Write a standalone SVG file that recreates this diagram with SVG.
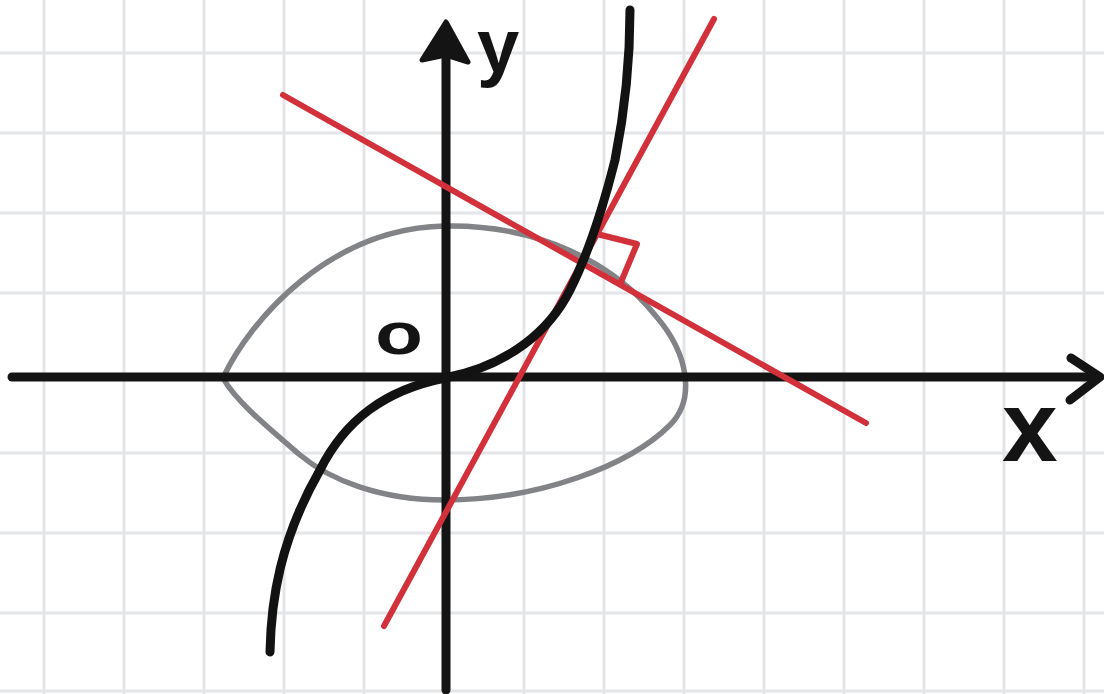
<svg xmlns="http://www.w3.org/2000/svg" width="1104" height="694" viewBox="0 0 1104 694">
<style>
.grid line{stroke:#e3e5e8;stroke-width:3}
.ax{stroke:#141414;stroke-width:9;fill:none;stroke-linecap:round;stroke-linejoin:round}
.red{stroke:#d2303a;stroke-width:6;fill:none;stroke-linecap:round;stroke-linejoin:round}
.lbl{font-family:"Liberation Sans",Arial,sans-serif;font-weight:bold;fill:#141414}
</style>
<rect width="1104" height="694" fill="#ffffff"/>
<g id="grid" class="grid">
<line x1="44" y1="0" x2="44" y2="694"/><line x1="124" y1="0" x2="124" y2="694"/><line x1="204" y1="0" x2="204" y2="694"/><line x1="284" y1="0" x2="284" y2="694"/><line x1="364" y1="0" x2="364" y2="694"/><line x1="524" y1="0" x2="524" y2="694"/><line x1="604" y1="0" x2="604" y2="694"/><line x1="684" y1="0" x2="684" y2="694"/><line x1="764" y1="0" x2="764" y2="694"/><line x1="844" y1="0" x2="844" y2="694"/><line x1="924" y1="0" x2="924" y2="694"/><line x1="1004" y1="0" x2="1004" y2="694"/><line x1="1084" y1="0" x2="1084" y2="694"/>
<line x1="0" y1="53" x2="1104" y2="53"/><line x1="0" y1="133" x2="1104" y2="133"/><line x1="0" y1="213" x2="1104" y2="213"/><line x1="0" y1="293" x2="1104" y2="293"/><line x1="0" y1="453" x2="1104" y2="453"/><line x1="0" y1="533" x2="1104" y2="533"/><line x1="0" y1="613" x2="1104" y2="613"/><line x1="0" y1="691" x2="1104" y2="691"/>
</g>
<g id="ellipse">
<path d="M 223,378 C 250,320 330,228 445,226 C 540,224 615,265 655,315 C 690,355 695,400 670,425 C 630,465 540,500 445,500 C 380,500 330,480 300,455 C 265,425 235,400 223,378 Z" fill="none" stroke="#818386" stroke-width="5.5"/>
</g>
<g id="axes">
<line class="ax" x1="12" y1="377" x2="1098" y2="377"/>
<polyline class="ax" points="1071,358 1100,377 1070,400"/>
<line class="ax" x1="446" y1="690" x2="446" y2="40"/>
<polygon points="446,22 468,62 446,55 422,60" fill="#141414" stroke="#141414" stroke-width="5" stroke-linejoin="round"/>
</g>
<g id="connectors">
<line class="red" x1="283" y1="95" x2="866" y2="423"/>
<line class="red" x1="384" y1="626" x2="714" y2="19"/>
<polyline class="red" points="597,234 637,244 621,282"/>
</g>
<g id="cubic">
<path d="M 270,652 C 271,600 280,540 320,470 C 345,420 385,390 445,378 C 510,365 550,330 570,290 C 590,250 605,200 615,160 C 625,110 630,60 630,10" fill="none" stroke="#121212" stroke-width="9" stroke-linecap="round"/>
</g>
<g id="labels">
<text class="lbl" x="477" y="72" font-size="76">y</text>
<text class="lbl" x="1002" y="461" font-size="100">x</text>
<text class="lbl" x="399" y="354" font-size="60" text-anchor="middle" transform="translate(399 0) scale(1.3 1) translate(-399 0)">o</text>
</g>
</svg>
